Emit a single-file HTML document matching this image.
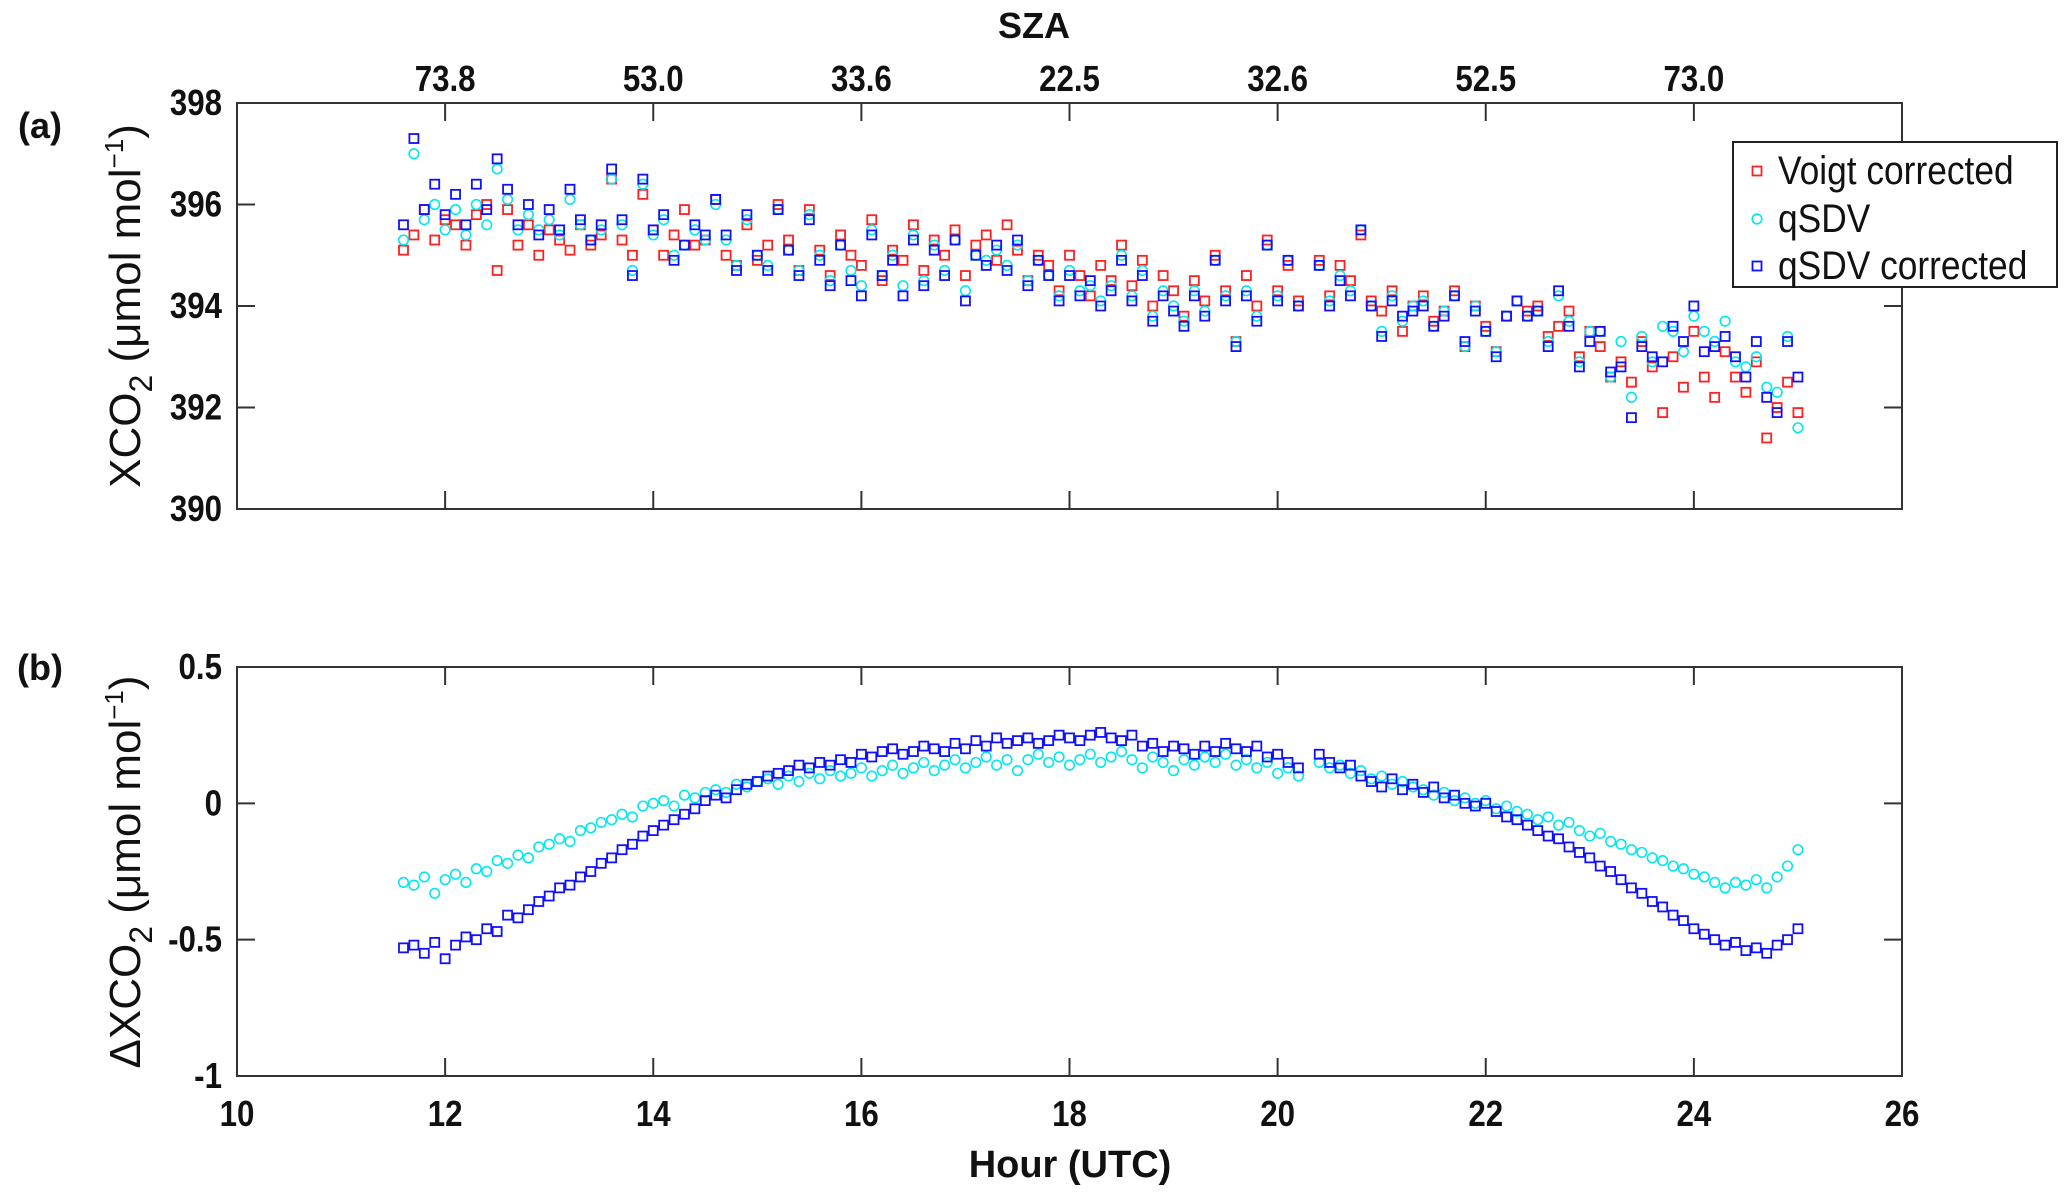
<!DOCTYPE html>
<html><head><meta charset="utf-8"><style>
html,body{margin:0;padding:0;background:#fff;}
svg{display:block;font-family:"Liberation Sans",Arial,sans-serif;}
</style></head><body>
<svg id="chart" width="2067" height="1198" viewBox="0 0 2067 1198" xmlns="http://www.w3.org/2000/svg">
<g id="layer"></g>
</svg>
<script>
const times=[11.6,11.7,11.8,11.9,12.0,12.1,12.2,12.3,12.4,12.5,12.6,12.7,12.8,12.9,13.0,13.1,13.2,13.3,13.4,13.5,13.6,13.7,13.8,13.9,14.0,14.1,14.2,14.3,14.4,14.5,14.6,14.7,14.8,14.9,15.0,15.1,15.2,15.3,15.4,15.5,15.6,15.7,15.8,15.9,16.0,16.1,16.2,16.3,16.4,16.5,16.6,16.7,16.8,16.9,17.0,17.1,17.2,17.3,17.4,17.5,17.6,17.7,17.8,17.9,18.0,18.1,18.2,18.3,18.4,18.5,18.6,18.7,18.8,18.9,19.0,19.1,19.2,19.3,19.4,19.5,19.6,19.7,19.8,19.9,20.0,20.1,20.2,
20.4,20.5,20.6,20.7,20.8,20.9,21.0,21.1,21.2,21.3,21.4,21.5,21.6,21.7,21.8,21.9,22.0,22.1,22.2,22.3,22.4,22.5,22.6,22.7,22.8,22.9,23.0,23.1,23.2,23.3,23.4,23.5,23.6,23.7,23.8,23.9,24.0,24.1,24.2,24.3,24.4,24.5,24.6,24.7,24.8,24.9,25.0];
const voigtA=[395.1,395.4,395.9,395.3,395.7,395.6,395.2,395.8,396.0,394.7,395.9,395.2,395.6,395.0,395.5,395.3,395.1,395.6,395.2,395.4,396.5,395.3,395.0,396.2,395.5,395.0,395.4,395.9,395.2,395.3,396.1,395.0,394.8,395.6,394.9,395.2,396.0,395.3,394.7,395.9,395.1,394.6,395.4,395.0,394.8,395.7,394.5,395.1,394.9,395.6,394.7,395.3,395.0,395.5,394.6,395.2,395.4,394.9,395.6,395.1,394.5,395.0,394.8,394.3,395.0,394.6,394.2,394.8,394.5,395.2,394.4,394.9,394.0,394.6,394.3,393.8,394.5,394.1,395.0,394.3,393.3,394.6,394.0,395.3,394.3,394.8,394.1,
394.9,394.2,394.8,394.5,395.4,394.1,393.9,394.3,393.5,394.0,394.2,393.7,393.9,394.3,393.2,394.0,393.6,393.1,393.8,394.1,393.9,394.0,393.4,393.6,393.9,393.0,393.5,393.2,392.6,392.9,392.5,393.3,392.8,391.9,393.0,392.4,393.5,392.6,392.2,393.1,392.6,392.3,392.9,391.4,392.0,392.5,391.9];
const qsdvA=[395.3,397.0,395.7,396.0,395.5,395.9,395.4,396.0,395.6,396.7,396.1,395.5,395.8,395.5,395.7,395.4,396.1,395.6,395.3,395.5,396.5,395.6,394.7,396.4,395.4,395.7,395.0,395.2,395.5,395.3,396.0,395.3,394.8,395.7,395.0,394.8,395.9,395.1,394.7,395.8,395.0,394.5,395.2,394.7,394.4,395.5,394.6,395.0,394.4,395.4,394.5,395.2,394.7,395.3,394.3,395.0,394.9,395.1,394.8,395.2,394.5,394.9,394.6,394.2,394.7,394.3,394.4,394.1,394.4,395.0,394.2,394.7,393.8,394.3,394.0,393.7,394.3,393.9,394.9,394.2,393.3,394.3,393.8,395.2,394.2,394.9,394.0,
394.8,394.1,394.6,394.3,395.5,394.0,393.5,394.2,393.7,394.0,394.1,393.6,393.9,394.2,393.2,394.0,393.5,393.1,393.8,394.1,393.8,393.9,393.3,394.2,393.7,392.9,393.5,393.5,392.6,393.3,392.2,393.4,392.9,393.6,393.5,393.1,393.8,393.5,393.3,393.7,392.9,392.8,393.0,392.4,392.3,393.4,391.6];
const qsdvCorrA=[395.6,397.3,395.9,396.4,395.8,396.2,395.6,396.4,395.9,396.9,396.3,395.6,396.0,395.4,395.9,395.5,396.3,395.7,395.3,395.6,396.7,395.7,394.6,396.5,395.5,395.8,394.9,395.2,395.6,395.4,396.1,395.4,394.7,395.8,395.0,394.7,395.9,395.1,394.6,395.7,394.9,394.4,395.2,394.5,394.2,395.4,394.6,394.9,394.2,395.3,394.4,395.1,394.6,395.3,394.1,395.0,394.8,395.2,394.7,395.3,394.4,394.9,394.6,394.1,394.6,394.2,394.5,394.0,394.3,394.9,394.1,394.6,393.7,394.2,393.9,393.6,394.2,393.8,394.9,394.1,393.2,394.2,393.7,395.2,394.1,394.9,394.0,
394.8,394.0,394.5,394.2,395.5,394.0,393.4,394.1,393.8,393.9,394.0,393.6,393.8,394.2,393.3,393.9,393.5,393.0,393.8,394.1,393.8,393.9,393.2,394.3,393.6,392.8,393.3,393.5,392.7,392.8,391.8,393.2,393.0,392.9,393.6,393.3,394.0,393.1,393.2,393.4,393.0,392.6,393.3,392.2,391.9,393.3,392.6];
const qsdvB=[-0.29,-0.30,-0.27,-0.33,-0.28,-0.26,-0.29,-0.24,-0.25,-0.21,-0.22,-0.19,-0.20,-0.16,-0.15,-0.13,-0.14,-0.10,-0.09,-0.07,-0.06,-0.04,-0.05,-0.01,0.00,0.01,-0.01,0.03,0.02,0.04,0.05,0.04,0.07,0.06,0.08,0.09,0.07,0.10,0.08,0.11,0.09,0.12,0.10,0.11,0.13,0.10,0.12,0.14,0.11,0.13,0.15,0.12,0.14,0.16,0.13,0.15,0.17,0.14,0.16,0.12,0.16,0.18,0.15,0.17,0.14,0.16,0.18,0.15,0.17,0.19,0.16,0.13,0.17,0.15,0.12,0.16,0.14,0.17,0.15,0.18,0.14,0.16,0.13,0.15,0.11,0.13,0.10,
0.15,0.13,0.14,0.11,0.12,0.09,0.10,0.07,0.08,0.06,0.05,0.03,0.04,0.01,0.02,0.00,0.01,-0.02,-0.01,-0.03,-0.04,-0.06,-0.05,-0.08,-0.07,-0.10,-0.12,-0.11,-0.14,-0.15,-0.17,-0.18,-0.20,-0.21,-0.23,-0.24,-0.26,-0.27,-0.29,-0.31,-0.29,-0.30,-0.28,-0.31,-0.27,-0.23,-0.17];
const qsdvCorrB=[-0.53,-0.52,-0.55,-0.51,-0.57,-0.52,-0.49,-0.50,-0.46,-0.47,-0.41,-0.42,-0.39,-0.36,-0.34,-0.31,-0.30,-0.27,-0.25,-0.22,-0.20,-0.17,-0.15,-0.12,-0.10,-0.08,-0.06,-0.04,-0.02,0.01,0.03,0.02,0.05,0.07,0.08,0.10,0.11,0.12,0.14,0.13,0.15,0.14,0.16,0.15,0.18,0.17,0.19,0.20,0.18,0.19,0.21,0.20,0.19,0.22,0.20,0.23,0.21,0.24,0.22,0.23,0.24,0.22,0.23,0.25,0.24,0.23,0.25,0.26,0.24,0.23,0.25,0.21,0.22,0.19,0.21,0.20,0.18,0.21,0.19,0.22,0.20,0.19,0.21,0.17,0.18,0.15,0.13,
0.18,0.15,0.13,0.14,0.10,0.08,0.06,0.09,0.05,0.07,0.04,0.06,0.02,0.03,0.00,-0.01,0.00,-0.03,-0.05,-0.06,-0.08,-0.10,-0.12,-0.13,-0.16,-0.18,-0.20,-0.23,-0.25,-0.28,-0.31,-0.33,-0.36,-0.38,-0.41,-0.43,-0.46,-0.48,-0.50,-0.52,-0.51,-0.54,-0.53,-0.55,-0.52,-0.50,-0.46];
const xTicks=[10,12,14,16,18,20,22,24,26];
const szaTickHours=[12,14,16,18,20,22,24];
const szaLabels=["73.8","53.0","33.6","22.5","32.6","52.5","73.0"];
const yTicksA=[390,392,394,396,398];
const yTicksB=[-1,-0.5,0,0.5];
const yTickLabelsB=["-1","-0.5","0","0.5"];

const NS="http://www.w3.org/2000/svg";
const layer=document.getElementById('layer');
const L=237,R=1902;
const A={top:103,bot:509,min:390,max:398};
const B={top:667,bot:1076,min:-1,max:0.5};
function xs(h){return L+(h-10)/(26-10)*(R-L);}
function ysA(v){return A.bot-(v-A.min)/(A.max-A.min)*(A.bot-A.top);}
function ysB(v){return B.bot-(v-B.min)/(B.max-B.min)*(B.bot-B.top);}
function mk(tag,attrs,parent){const e=document.createElementNS(NS,tag);for(const k in attrs)e.setAttribute(k,attrs[k]);(parent||layer).appendChild(e);return e;}
function txt(s,x,y,size,weight,anchor,parent){const t=mk('text',{x:x,y:y,'font-size':size,'font-weight':weight,'text-anchor':anchor,fill:'#111'},parent);t.textContent=s;return t;}
function ctxt(s,x,y,anchor){const t=mk('text',{x:0,y:0,'font-size':34,'font-weight':'bold','text-anchor':anchor,fill:'#111',transform:`translate(${x},${y}) scale(0.92,1.05)`});t.textContent=s;return t;}

function frame(P,name){
  const g=mk('g',{});
  
  
  mk('rect',{x:L,y:P.top,width:R-L,height:P.bot-P.top,fill:'none',stroke:'#333','stroke-width':2},g);
  return g;
}
frame(A,'panel-a-frame');
frame(B,'panel-b-frame');

xTicks.forEach(h=>{
  const x=xs(h);
  [A,B].forEach(P=>{
    if(h>10&&h<26){
      mk('line',{x1:x,x2:x,y1:P.bot,y2:P.bot-18,stroke:'#333','stroke-width':2});
      mk('line',{x1:x,x2:x,y1:P.top,y2:P.top+18,stroke:'#333','stroke-width':2});
    }
  });
  const t=ctxt(String(h),x,1126,'middle');
  
  
});
szaTickHours.forEach((h,i)=>{
  const t=ctxt(szaLabels[i],xs(h),91,'middle');
  
  
});
yTicksA.forEach(v=>{
  const y=ysA(v);
  mk('line',{x1:L,x2:L+18,y1:y,y2:y,stroke:'#333','stroke-width':2});
  mk('line',{x1:R,x2:R-18,y1:y,y2:y,stroke:'#333','stroke-width':2});
  const t=ctxt(String(v),222,y+12,'end');
  
  
});
yTicksB.forEach((v,i)=>{
  const y=ysB(v);
  mk('line',{x1:L,x2:L+18,y1:y,y2:y,stroke:'#333','stroke-width':2});
  mk('line',{x1:R,x2:R-18,y1:y,y2:y,stroke:'#333','stroke-width':2});
  const t=ctxt(yTickLabelsB[i],222,y+12,'end');
  
  
});

function sq(x,y,c,g){mk('rect',{x:x-4.5,y:y-4.5,width:9,height:9,fill:'none',stroke:c,'stroke-width':1.8},g);}
function ci(x,y,c,g){mk('circle',{cx:x,cy:y,r:4.8,fill:'none',stroke:c,'stroke-width':1.6},g);}
function series(vals,ys,kind,c,name){
  const g=mk('g',{});
  
  
  vals.forEach((v,i)=>{const x=xs(times[i]),y=ys(v);if(kind==='s')sq(x,y,c,g);else ci(x,y,c,g);});
}
series(voigtA,ysA,'s','#ff2020','series-voigt-corrected-a');
series(qsdvA,ysA,'c','#00e8f0','series-qsdv-a');
series(qsdvCorrA,ysA,'s','#1010ff','series-qsdv-corrected-a');
series(qsdvB,ysB,'c','#00e8f0','series-qsdv-b');
series(qsdvCorrB,ysB,'s','#1010ff','series-qsdv-corrected-b');

let t;
t=txt('SZA',1034,38,36,'bold','middle');

t=txt('Hour (UTC)',1070,1177,38,'bold','middle');

t=txt('(a)',40,138,36,'bold','middle');

t=txt('(b)',40,680,36,'bold','middle');


function ylabel(prefix,cx,cy,name){
  const t=mk('text',{x:0,y:0,'font-size':44,'text-anchor':'middle',fill:'#111',transform:`translate(${cx},${cy}) rotate(-90)`});
  
  t.innerHTML=prefix+'XCO<tspan font-size="32" dy="12">2</tspan><tspan dy="-12"> (μmol mol</tspan><tspan font-size="26" dy="-17">−1</tspan><tspan dy="17">)</tspan>';
}
ylabel('',140,306,'y-axis-title-a');
ylabel('Δ',140,872,'y-axis-title-b');

const lg=mk('g',{});

mk('rect',{x:1733,y:142,width:324,height:145,fill:'#fff',stroke:'#222','stroke-width':2},lg);
const items=[['Voigt  corrected','s','#ff2020',184],['qSDV','c','#00e8f0',232],['qSDV  corrected','s','#1010ff',279]];
items.forEach(it=>{
  const g=mk('g',{},lg);
  
  if(it[1]==='s')sq(1757,it[3]-13,it[2],g);else ci(1757,it[3]-13,it[2],g);
  const tt=mk('text',{x:0,y:0,'font-size':38,fill:'#111',transform:`translate(1778,${it[3]}) scale(0.93,1.05)`},g);
  tt.setAttribute('xml:space','preserve');
  tt.textContent=it[0];
});
</script>
</body></html>
